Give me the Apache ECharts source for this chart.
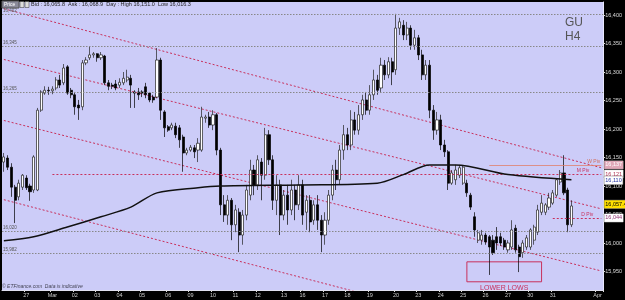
<!DOCTYPE html>
<html><head><meta charset="utf-8">
<script src="https://cdn.jsdelivr.net/npm/echarts@6/dist/echarts.min.js"></script>
<style>html,body{margin:0;padding:0;background:#000;}#c{width:625px;height:300px;}</style>
</head><body><div id="c"></div>
<script>
// ---- data ----
const dayNames   = ['26','27','Mar','02','03','04','05','06','09','10','11','12','13','16','17','18','19','20','23','24','25','26','27','30','31','Apr'];
const barsPerDay = [6,7,6,6,6,6,7,6,6,6,6,7,5,6,6,6,7,6,6,6,6,6,6,6,12,2];
// [open, close, low, high]
const candles = [
[16142,16151,16125,16158],[16149,16133,16128,16154],[16133,16098,16081,16140],[16098,16075,16035,16102],
[16081,16105,16075,16111],[16098,16119,16093,16121],[16114,16097,16093,16119],[16100,16090,16074,16104],
[16093,16151,16088,16154],[16093,16233,16091,16237],[16233,16265,16230,16268],[16263,16268,16260,16275],
[16268,16267,16260,16274],[16267,16270,16261,16275],[16272,16286,16268,16291],[16286,16277,16272,16295],
[16281,16307,16277,16314],[16309,16263,16260,16312],[16268,16260,16254,16272],[16260,16239,16225,16265],
[16242,16237,16216,16251],[16239,16316,16233,16321],[16316,16321,16312,16326],[16325,16330,16321,16344],
[16330,16332,16325,16335],[16332,16325,16318,16333],[16325,16330,16321,16335],[16328,16281,16277,16330],
[16281,16275,16268,16286],[16277,16275,16270,16281],[16279,16272,16268,16286],[16277,16282,16272,16289],
[16281,16289,16277,16300],[16286,16291,16282,16304],[16289,16277,16237,16295],[16265,16263,16237,16268],
[16265,16260,16251,16272],[16265,16263,16256,16268],[16274,16260,16254,16281],[16263,16251,16247,16265],
[16256,16251,16246,16260],[16256,16321,16254,16342],[16321,16233,16216,16325],[16230,16202,16186,16233],
[16204,16198,16195,16207],[16202,16207,16198,16211],[16205,16190,16184,16211],[16202,16181,16167,16207],
[16186,16158,16125,16190],[16158,16163,16154,16167],[16163,16168,16160,16172],[16167,16160,16149,16172],
[16163,16175,16142,16184],[16163,16221,16160,16239],[16219,16221,16211,16225],[16221,16207,16202,16230],
[16207,16225,16198,16233],[16225,16163,16154,16228],[16163,16067,16049,16167],[16067,16049,16037,16084],
[16049,16075,16032,16084],[16075,16032,16005,16079],[16032,16058,16019,16067],[16054,16014,15984,16061],
[16014,16049,15997,16058],[16049,16093,16040,16102],[16084,16128,16075,16146],[16128,16102,16084,16137],
[16102,16146,16093,16154],[16142,16119,16075,16149],[16119,16190,16111,16202],[16190,16146,16137,16198],
[16146,16075,16058,16154],[16075,16102,16049,16119],[16102,16049,16014,16111],[16049,16084,16040,16093],
[16084,16058,16032,16102],[16058,16093,16049,16111],[16093,16067,16040,16102],[16067,16102,16058,16119],
[16102,16049,16032,16111],[16054,16075,16023,16084],[16075,16037,16019,16084],[16040,16067,16032,16075],
[16067,16040,16023,16084],[16040,16014,15984,16049],[16014,16040,15997,16054],[16040,16084,16032,16093],
[16084,16128,16075,16137],[16128,16111,16093,16146],[16111,16163,16102,16172],[16163,16190,16146,16207],
[16190,16172,16163,16202],[16172,16216,16163,16233],[16216,16198,16190,16230],[16198,16225,16190,16242],
[16225,16251,16216,16260],[16251,16233,16225,16265],[16233,16260,16225,16277],[16260,16286,16251,16304],
[16286,16268,16260,16295],[16272,16312,16265,16325],[16312,16295,16286,16321],[16295,16318,16289,16326],
[16318,16300,16277,16325],[16304,16377,16295,16402],[16377,16388,16365,16395],[16382,16365,16356,16391],
[16365,16377,16356,16388],[16377,16347,16339,16382],[16347,16360,16339,16374],[16360,16330,16321,16365],
[16330,16295,16286,16339],[16295,16312,16286,16321],[16312,16233,16219,16321],[16233,16198,16181,16242],
[16198,16216,16190,16230],[16216,16172,16163,16225],[16172,16160,16151,16181],[16160,16105,16093,16163],
[16105,16123,16102,16128],[16111,16128,16102,16137],[16119,16132,16114,16137],[16105,16133,16102,16137],
[16105,16088,16081,16111],[16084,16063,16058,16088],[16046,16023,16011,16054],[16005,16018,16000,16023],
[16005,16014,15997,16023],[16014,16002,15997,16018],[16011,15993,15944,16014],[16005,15983,15979,16014],
[16011,16000,15988,16028],[16011,16000,15995,16018],[16005,15993,15988,16009],[15988,16000,15983,16005],
[15993,16023,15988,16040],[16026,15988,15983,16032],[15993,15976,15949,15997],[15983,16000,15974,16005],
[15993,16009,15988,16014],[15993,16023,15988,16026],[16005,16028,15997,16032],[16019,16058,16014,16067],
[16054,16070,16049,16084],[16054,16067,16049,16070],[16063,16079,16058,16088],[16070,16088,16067,16093],
[16084,16111,16081,16114],[16107,16123,16102,16128],[16123,16088,16084,16154],[16093,16032,16019,16097],
[16032,16065,16028,16075]
];
// moving average read at points: [bar index, price]
const maPoints = [[0,16004],[8,16011],[17,16028],[26,16046],[34,16063],[41,16088],[52,16097],[58,16100],
  [79,16102],[100,16105],[107,16120],[114,16137],[121,16137],[135,16120],[152,16111]];
// channel lines: [bar index, price] end points
const channelA = [[0,16411],[160,16132]];
const channelB = [[0,16322],[160,16060]];
const channelC = [[0,16215],[160,15951]];
const channelD = [[0,16076],[160,15802]];
const priceTicks = [15950,16000,16050,16100,16150,16200,16250,16300,16350,16400];
const levelLines = [16402,16345,16265,16020,15982];
const pivotM = 16121, pivotW = 16137, pivotD = 16044;
const maLast = 16110, lastPrice = 16057.4;
const infoText = 'Bid : 16,065.8  Ask : 16,068.9  Day : High 16,151.0  Low 16,016.3';

// ---- build ----
const cats = [];
dayNames.forEach((d, k) => { for (let j = 0; j < barsPerDay[k]; j++) cats.push(d + '|' + j + '|' + k); });
const fmt = v => v.toLocaleString('en-US');
const nCat = cats.length;
const chart = echarts.init(document.getElementById('c'), null, {renderer: 'canvas'});
const red = '#c8305c';
function chan(d) {
  return {type: 'line', data: d, symbol: 'none', silent: true, z: 3,
    lineStyle: {color: red, width: 1, type: [2, 2]}, animation: false};
}
function boxLabel(val, text, bg, fg, off) {
  return [{coord: [nCat - 3, val], lineStyle: {color: 'rgba(0,0,0,0)', width: 1, type: 'solid'},
    label: {show: true, position: 'end', formatter: text, backgroundColor: bg, color: fg, fontSize: 5.5,
      padding: [1, 1], distance: 3, offset: [0, off || 0], borderColor: '#777', borderWidth: 0.5, opacity: 1}},
    {coord: [nCat - 1, val]}];
}
chart.setOption({
  animation: false,
  backgroundColor: '#000',
  textStyle: {fontFamily: 'Liberation Sans, Arial, sans-serif'},
  grid: {left: 2, right: 19, top: 2, bottom: 10, show: true, backgroundColor: '#ccccf8', borderWidth: 0},
  xAxis: {
    type: 'category', data: cats, boundaryGap: true,
    axisLine: {show: true, lineStyle: {color: '#e0e0f0', width: 1}},
    axisTick: {show: true, length: 2, lineStyle: {color: '#ddd'},
      interval: (i, v) => v.split('|')[1] === '0' && v.split('|')[2] !== '0'},
    axisLabel: {color: '#ccc', fontSize: 5.5, margin: 2,
      interval: (i, v) => v.split('|')[1] === '0' && v.split('|')[2] !== '0',
      formatter: v => v.split('|')[0]},
    splitLine: {show: false}
  },
  yAxis: {
    type: 'value', position: 'right', min: 15917.6, max: 16422.8, scale: true,
    axisLine: {show: true, lineStyle: {color: '#e8e8ff', width: 1}},
    axisTick: {show: true, length: 2, lineStyle: {color: '#ddd'}, customValues: priceTicks},
    axisLabel: {color: '#ddd', fontSize: 5.5, margin: 2, customValues: priceTicks, formatter: v => fmt(v)},
    splitLine: {show: false}
  },
  graphic: [
    {type: 'rect', shape: {x: 2, y: 1, width: 17, height: 7}, style: {fill: '#8a8a9a', stroke: '#555'}},
    {type: 'text', x: 4, y: 4.5, style: {text: 'Price', fontSize: 5, fill: '#fff', verticalAlign: 'middle'}},
    {type: 'rect', shape: {x: 20, y: 1.5, width: 4, height: 6}, style: {fill: '#ddd', stroke: '#333', lineWidth: 0.5}},
    {type: 'rect', shape: {x: 25, y: 1.5, width: 4, height: 6}, style: {fill: '#ddd', stroke: '#333', lineWidth: 0.5}},
    {type: 'text', x: 31, y: 4.5, style: {text: infoText, fontSize: 5.5, fill: '#222', verticalAlign: 'middle'}},
    {type: 'text', x: 2, y: 287, style: {text: '© ETFinance.com  Data is indicative', fontSize: 5, fontStyle: 'italic', fill: '#445', verticalAlign: 'middle'}},
    {type: 'text', x: 565, y: 17, style: {text: 'GU', fontSize: 12, fill: '#555'}},
    {type: 'text', x: 565, y: 31, style: {text: 'H4', fontSize: 12, fill: '#555'}}
  ],
  series: [
    {
      type: 'candlestick', data: candles.map(c => [c[0], c[1], c[2], c[3]]), barWidth: 2.6, z: 4,
      itemStyle: {color: '#ffffff', color0: '#000000', borderColor: '#222', borderColor0: '#000', borderWidth: 0.7},
      markLine: {
        silent: true, symbol: ['none', 'none'], animation: false,
        data: [
          ...levelLines.map(v => ({yAxis: v, lineStyle: {color: '#888', type: [1.5, 1.5], width: 1},
            label: {show: true, position: 'insideStartTop', formatter: fmt(v), fontSize: 4.5, color: '#555', distance: 1}})),
          [{coord: [13, pivotM], lineStyle: {color: red, type: [2, 2], width: 1},
            label: {show: true, position: 'insideEndTop', formatter: 'M Piv', fontSize: 5, color: red, distance: [12, 1]}},
           {coord: [nCat - 1, pivotM]}],
          [{coord: [130, pivotW], lineStyle: {color: '#e0806c', type: 'solid', width: 0.8},
            label: {show: true, position: 'insideEndTop', formatter: 'W Piv', fontSize: 5, color: '#d07060', distance: [1, 1]}},
           {coord: [nCat - 1, pivotW]}],
          [{coord: [147, pivotD], lineStyle: {color: red, type: [2, 2], width: 1},
            label: {show: true, position: 'insideEndTop', formatter: 'D Piv', fontSize: 5, color: red, distance: [8, 1]}},
           {coord: [nCat - 1, pivotD]}],
          boxLabel(pivotW, fmt(pivotW), '#e0a8b8', '#fff', 0),
          boxLabel(pivotM, fmt(pivotM), '#fff', '#b03050', 0),
          boxLabel(maLast, fmt(maLast), '#fff', '#2030a0', 0),
          boxLabel(lastPrice, '16,057.4', '#ffe000', '#000', -6),
          boxLabel(pivotD, fmt(pivotD), '#fff', '#903070', 0)
        ]
      },
      markArea: {
        silent: true,
        itemStyle: {color: 'rgba(0,0,0,0)', borderColor: red, borderWidth: 1},
        label: {show: true, position: 'bottom', formatter: 'LOWER LOWS', color: red, fontSize: 7, distance: 2},
        data: [[{coord: [124, 15967]}, {coord: [144, 15932]}]]
      }
    },
    {type: 'line', data: maPoints, symbol: 'none', smooth: 0.3, z: 5, silent: true,
      lineStyle: {color: '#111', width: 1.5}},
    chan(channelA), chan(channelB), chan(channelC), chan(channelD)
  ]
});
</script></body></html>
